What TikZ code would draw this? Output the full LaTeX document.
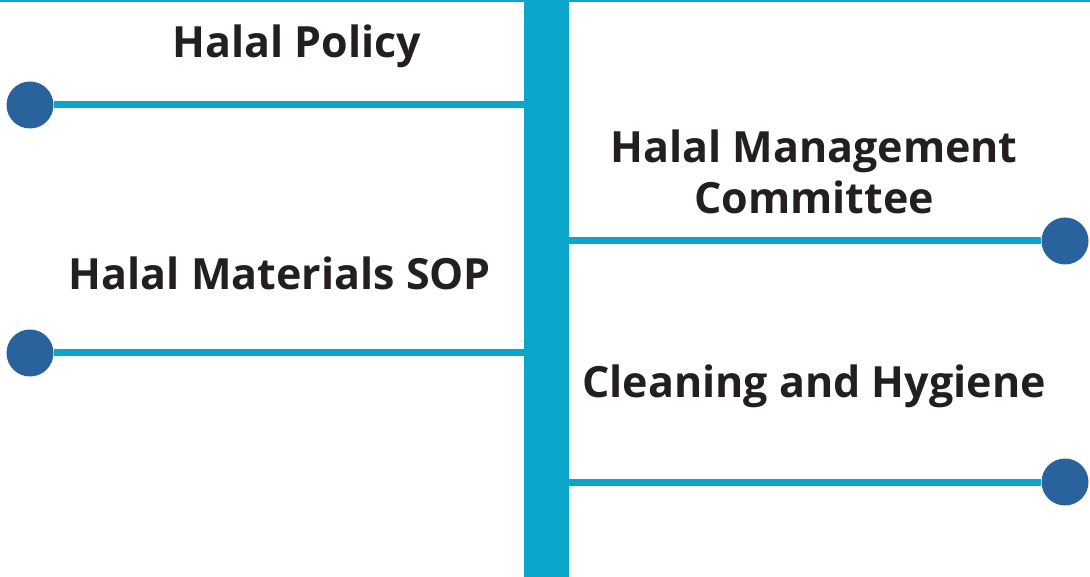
\documentclass[tikz,border=0pt]{standalone}
\usepackage{fontspec}
\setmainfont{Open Sans}
\usepackage{tikz}
\usetikzlibrary{positioning, calc}

\definecolor{spinecyan}{HTML}{0CA6CB}
\definecolor{dotblue}{HTML}{2A629E}
\definecolor{labelgray}{HTML}{231F20}

\tikzset{
  dot/.style={circle, fill=dotblue, minimum size=47pt, inner sep=0pt},
  branch/.style={spinecyan, line width=7pt},
  lbl/.style={font=\fontsize{43}{51}\selectfont\bfseries, text=labelgray, align=center, inner sep=0pt}
}

\begin{document}
\begin{tikzpicture}[x=1pt, y=-1pt]
      \useasboundingbox (0,0) rectangle (1090,577);
      % top rule and spine
      \coordinate (topl) at (0,1);
      \coordinate (topr) at (1090,1);
      \draw[spinecyan, line width=2pt] (topl) -- (topr);
      \node[fill=spinecyan, minimum width=45pt, minimum height=577pt, inner sep=0pt] (spine) at (546.5,288.5) {};
      % left branches
      \node[dot] (p1) at (30,105) {};
      \node[dot] (p3) at (30,353) {};
      \draw[branch] (p1) -- (spine.west |- p1);
      \draw[branch] (p3) -- (spine.west |- p3);
      % right branches
      \node[dot] (p2) at (1065,241) {};
      \node[dot] (p4) at (1065,482) {};
      \draw[branch] (p2) -- (spine.east |- p2);
      \draw[branch] (p4) -- (spine.east |- p4);
      % labels
      \node[lbl] (policy) at (297,46) {Halal Policy};
      \node[lbl] (committee) at (814,172) {Halal Management\\Committee};
      \node[lbl] (materials) at (280,273) {Halal Materials SOP};
      \node[lbl] (hygiene) at (814,386) {Cleaning and Hygiene};
    \end{tikzpicture}
\end{document}
